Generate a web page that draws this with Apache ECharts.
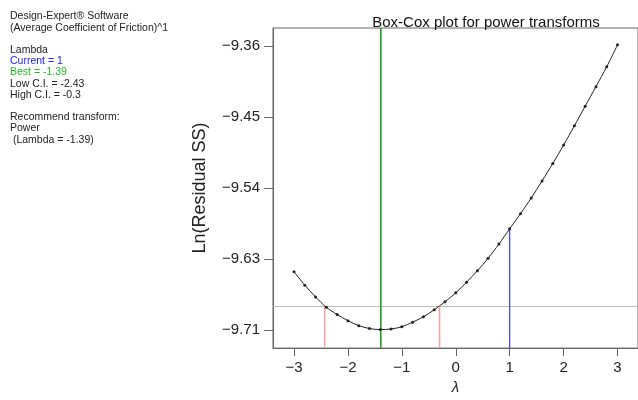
<!DOCTYPE html>
<html>
<head>
<meta charset="utf-8">
<title>Box-Cox plot</title>
<script src="https://cdn.jsdelivr.net/npm/echarts@6/dist/echarts.min.js"></script>
<style>
  html, body { margin: 0; padding: 0; background: #fff; }
  #echarts { width: 638px; height: 400px; }
</style>
</head>
<body>
<div id="echarts"></div>
<script>
// lambda values where the curve was evaluated
var lambdas = [-3, -2.8, -2.6, -2.4, -2.2, -2, -1.8, -1.6, -1.4, -1.2, -1, -0.8, -0.6, -0.4, -0.2,
  0, 0.2, 0.4, 0.6, 0.8, 1, 1.2, 1.4, 1.6, 1.8, 2, 2.2, 2.4, 2.6, 2.8, 3];
// Ln(Residual SS)
var lnSS = [-9.6407, -9.6572, -9.6717, -9.6845, -9.6934, -9.7010, -9.7071, -9.7107, -9.7120, -9.7112,
  -9.7085, -9.7028, -9.6962, -9.6876, -9.6777, -9.6667, -9.6536, -9.6395, -9.6240, -9.6066,
  -9.5877, -9.5691, -9.5497, -9.5288, -9.5072, -9.4845, -9.4608, -9.4366, -9.4125, -9.3880, -9.3610];

var currentLambda = 1;
var currentLnSS = -9.5877;
var bestLambda = -1.39;
var lowCI = -2.43;
var highCI = -0.3;
var ciLevel = -9.6835;

var xRange = [-3.39, 3.38];
var yRange = [-9.7348, -9.3402];

var xTickValues = [-3, -2, -1, 0, 1, 2, 3];
var xTickLabels = ['\u22123', '\u22122', '\u22121', '0', '1', '2', '3'];
var yTickValues = [-9.7125, -9.625, -9.5375, -9.45, -9.3625];
var yTickLabels = ['\u22129.71', '\u22129.63', '\u22129.54', '\u22129.45', '\u22129.36'];

var infoLines = [
  ['Design-Expert\u00ae Software', '#222'],
  ['(Average Coefficient of Friction)^1', '#222'],
  ['', '#222'],
  ['Lambda', '#222'],
  ['Current = 1', '#1a1aff'],
  ['Best = -1.39', '#22bb22'],
  ['Low C.I. = -2.43', '#222'],
  ['High C.I. = -0.3', '#222'],
  ['', '#222'],
  ['Recommend transform:', '#222'],
  ['Power', '#222'],
  [' (Lambda = -1.39)', '#222']
];

var FONT = '"Liberation Sans", Arial, sans-serif';

function labelFor(values, labels) {
  return function (v) {
    for (var i = 0; i < values.length; i++) {
      if (Math.abs(values[i] - v) < 1e-6) return labels[i];
    }
    return '';
  };
}

function segment(name, color, width, pts) {
  return {
    name: name,
    type: 'line',
    data: pts,
    symbol: 'none',
    silent: true,
    animation: false,
    lineStyle: { color: color, width: width }
  };
}

function buildOption() {
  var curve = lambdas.map(function (l, i) { return [l, lnSS[i]]; });
  var texts = infoLines.map(function (ln, i) {
    return {
      type: 'text',
      left: 10,
      top: 11 + i * 11.2,
      style: { text: ln[0], fill: ln[1], font: '10.5px ' + FONT }
    };
  });

  return {
    animation: false,
    backgroundColor: '#fff',
    textStyle: { fontFamily: FONT },
    title: {
      text: 'Box-Cox plot for power transforms',
      left: 481,
      top: 10,
      textAlign: 'center',
      textStyle: { fontSize: 15, fontWeight: 'normal', color: '#111', fontFamily: FONT }
    },
    graphic: texts,
    grid: {
      left: 273, right: -2, top: 28, bottom: 45,
      show: true, borderColor: '#666', borderWidth: 1
    },
    xAxis: {
      type: 'value',
      min: xRange[0], max: xRange[1],
      name: '\u03bb',
      nameLocation: 'middle',
      nameGap: 30,
      nameTextStyle: { fontSize: 15, color: '#222', fontStyle: 'italic', fontFamily: FONT },
      axisLine: { show: true, onZero: false, lineStyle: { color: '#666' } },
      axisTick: { show: true, length: 8, lineStyle: { color: '#666' }, customValues: xTickValues },
      axisLabel: {
        customValues: xTickValues,
        formatter: labelFor(xTickValues, xTickLabels),
        margin: 12, fontSize: 15, color: '#222', fontFamily: FONT
      },
      splitLine: { show: false }
    },
    yAxis: {
      type: 'value',
      min: yRange[0], max: yRange[1],
      name: 'Ln(Residual SS)',
      nameLocation: 'middle',
      nameGap: 64,
      nameTextStyle: { fontSize: 18, color: '#222', fontFamily: FONT },
      axisLine: { show: true, onZero: false, lineStyle: { color: '#666' } },
      axisTick: { show: true, length: 9, lineStyle: { color: '#666' }, customValues: yTickValues },
      axisLabel: {
        customValues: yTickValues,
        formatter: labelFor(yTickValues, yTickLabels),
        margin: 13, fontSize: 15, color: '#222', fontFamily: FONT
      },
      splitLine: { show: false }
    },
    series: [
      segment('ci', '#bdbdbd', 1.2, [[xRange[0], ciLevel], [xRange[1], ciLevel]]),
      segment('low', '#f4a3a3', 1.5, [[lowCI, yRange[0]], [lowCI, ciLevel]]),
      segment('high', '#f4a3a3', 1.5, [[highCI, yRange[0]], [highCI, ciLevel]]),
      segment('current', '#3c3cf0', 1.2, [[currentLambda, yRange[0]], [currentLambda, currentLnSS]]),
      segment('best', '#22a022', 1.6, [[bestLambda, yRange[0]], [bestLambda, yRange[1]]]),
      {
        name: 'lnSS',
        type: 'line',
        data: curve,
        smooth: 0.3,
        symbol: 'circle',
        symbolSize: 3,
        showSymbol: true,
        itemStyle: { color: '#222' },
        lineStyle: { color: '#222', width: 1 }
      }
    ]
  };
}

var myChart = echarts.init(document.getElementById('echarts'));
myChart.setOption(buildOption());
</script>
</body>
</html>
